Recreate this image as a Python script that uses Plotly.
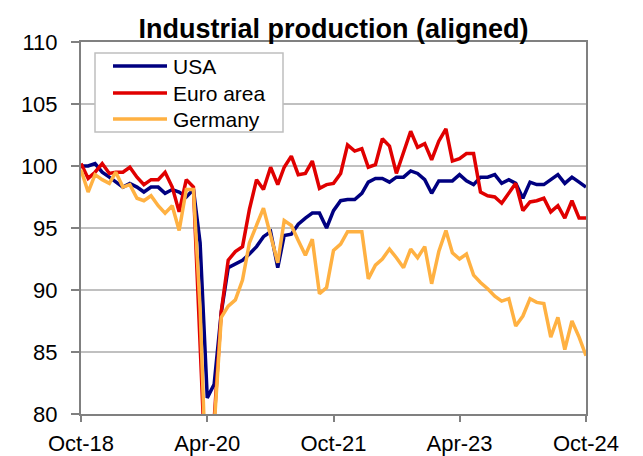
import plotly.graph_objects as go
import pandas as pd

# Monthly observations Oct-2018 .. Oct-2024 (index, aligned)
months = pd.date_range("2018-10-01", "2024-10-01", freq="MS")

usa = [100.0, 100.0, 100.2, 99.5, 99.1, 98.7, 98.3, 98.6, 98.3, 97.9,
       98.3, 98.3, 97.8, 98.1, 97.9, 97.5, 98.1, 93.8, 81.3, 82.4,
       88.2, 91.8, 92.1, 92.4, 92.9, 93.5, 94.3, 94.7, 91.8, 94.4,
       94.5, 95.3, 95.8, 96.2, 96.2, 95.0, 96.4, 97.2, 97.3, 97.3,
       97.8, 98.7, 99.0, 99.0, 98.7, 99.1, 99.1, 99.6, 99.4, 98.9,
       97.8, 98.8, 98.8, 98.8, 99.3, 98.8, 98.5, 99.1, 99.1, 99.3,
       98.6, 98.9, 98.6, 97.4, 98.7, 98.5, 98.5, 98.9, 99.3, 98.6,
       99.1, 98.7, 98.3]

euro_area = [100.2, 99.0, 99.5, 100.2, 99.4, 99.5, 99.5, 99.9, 99.1, 98.5,
             98.9, 98.9, 99.5, 98.3, 96.3, 98.9, 98.3, 86.0, 72.0, 79.5,
             88.3, 92.4, 93.1, 93.5, 96.5, 98.9, 98.1, 99.9, 98.5, 99.9,
             100.8, 99.3, 99.4, 100.4, 98.2, 98.5, 98.6, 99.4, 101.7, 101.2,
             101.4, 99.9, 100.1, 102.2, 101.6, 99.4, 101.0, 102.8, 101.5, 101.8,
             100.5, 102.0, 103.0, 100.4, 100.6, 101.0, 101.0, 97.9, 97.6, 97.5,
             97.0, 97.8, 98.6, 96.4, 97.1, 97.2, 97.4, 96.3, 96.8, 95.8,
             97.2, 95.8, 95.8]

germany = [99.7, 97.9, 99.3, 98.9, 98.6, 99.5, 98.3, 98.5, 97.4, 97.2,
           97.6, 96.8, 96.2, 96.8, 94.8, 98.1, 98.1, 88.5, 72.0, 79.0,
           87.8, 88.7, 89.2, 90.8, 93.8, 95.2, 96.6, 94.4, 92.2, 95.6,
           95.2, 94.0, 92.8, 94.1, 89.7, 90.2, 93.2, 93.7, 94.7, 94.7,
           94.7, 90.9, 92.0, 92.5, 93.3, 92.6, 91.8, 93.3, 92.6, 93.5,
           90.5, 93.1, 94.8, 93.0, 92.5, 92.9, 91.2, 90.6, 90.1, 89.5,
           89.1, 89.3, 87.1, 87.9, 89.3, 89.0, 88.9, 86.2, 87.8, 85.2,
           87.5, 86.2, 84.7]

x_tick_dates = ["2018-10-01", "2020-04-01", "2021-10-01", "2023-04-01", "2024-10-01"]
x_tick_labels = ["Oct-18", "Apr-20", "Oct-21", "Apr-23", "Oct-24"]
y_ticks = [80, 85, 90, 95, 100, 105, 110]

series_names = ["USA", "Euro area", "Germany"]
series_values = [usa, euro_area, germany]
series_colors = ["#000080", "#E00000", "#FFB142"]

W, H = 643, 456
ML, MR, MT, MB = 81, 57, 42, 42
PW, PH = W - ML - MR, H - MT - MB


def px_x(px):
    return (px - ML) / PW


def px_y(py):
    return (H - MB - py) / PH


fig = go.Figure()
for name, vals, col in zip(series_names, series_values, series_colors):
    fig.add_trace(go.Scatter(x=months, y=vals, name=name, mode="lines",
                             line=dict(color=col, width=3.5), showlegend=False))

font_family = "Liberation Sans, Arial, sans-serif"

# legend box (drawn as in the original: long line samples, tight rows)
shapes = [dict(type="rect", xref="paper", yref="paper",
               x0=px_x(95), x1=px_x(283), y0=px_y(132), y1=px_y(53),
               line=dict(color="#BFBFBF", width=1.5), fillcolor="white", layer="above")]
annotations = []
row_y = [66, 93, 119]
for name, col, ry in zip(series_names, series_colors, row_y):
    shapes.append(dict(type="line", xref="paper", yref="paper",
                       x0=px_x(113), x1=px_x(167), y0=px_y(ry), y1=px_y(ry),
                       line=dict(color=col, width=3.5), layer="above"))
    annotations.append(dict(text=name, xref="paper", yref="paper",
                            x=px_x(171), y=px_y(ry), xanchor="left", yanchor="middle",
                            showarrow=False,
                            font=dict(family=font_family, size=21, color="black")))

fig.update_layout(
    width=W, height=H,
    margin=dict(l=ML, r=MR, t=MT, b=MB),
    paper_bgcolor="white", plot_bgcolor="white",
    font=dict(family=font_family, size=22, color="black"),
    title=dict(text="<b>Industrial production (aligned)</b>",
               font=dict(family=font_family, size=27, color="black"),
               x=(81 + 586) / 2 / W, xanchor="center",
               y=1 - 29 / H, yanchor="middle", yref="container"),
    showlegend=False,
    shapes=shapes,
    annotations=annotations,
)
fig.update_xaxes(
    range=["2018-10-01", "2024-10-01"],
    tickmode="array", tickvals=x_tick_dates, ticktext=x_tick_labels,
    showline=True, linecolor="#808080", linewidth=2, mirror=True,
    ticks="outside", ticklen=6, tickwidth=2, tickcolor="#808080",
    showgrid=False, zeroline=False, ticklabelstandoff=3, automargin=False,
)
fig.update_yaxes(
    range=[80, 110], tickmode="array", tickvals=y_ticks,
    showline=True, linecolor="#808080", linewidth=2, mirror=True,
    ticks="outside", ticklen=8, tickwidth=2, tickcolor="#808080",
    showgrid=True, gridcolor="#C0C0C0", gridwidth=2, zeroline=False,
    ticklabelstandoff=9, automargin=False,
)

fig.write_html("out.html",
               config={"displayModeBar": False},
               post_script="document.body.style.margin='0px';"
                           "document.body.style.padding='0px';")
